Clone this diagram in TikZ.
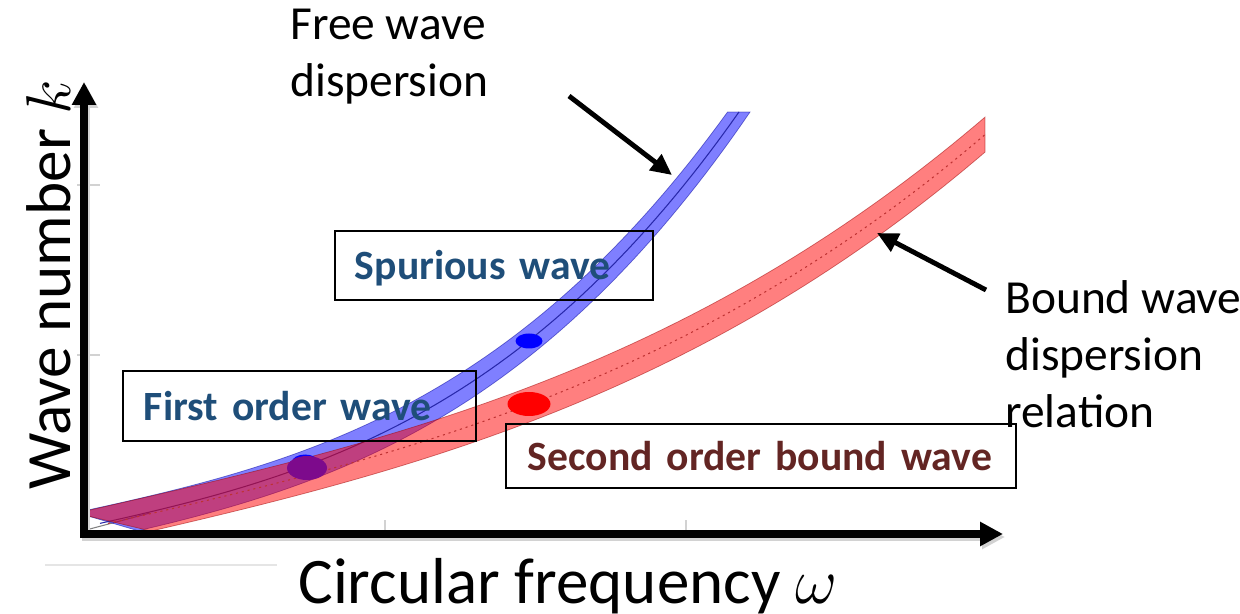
\RequirePackage{fix-cm}
\documentclass[tikz,border=0pt]{standalone}
\usepackage{fontspec}
\setmainfont{Carlito}
\usetikzlibrary{arrows.meta}
\definecolor{txtblue}{RGB}{31,78,121}
\definecolor{txtred}{RGB}{99,37,35}
\definecolor{dotpurple}{RGB}{125,10,140}
\definecolor{blueline}{RGB}{40,40,170}
\definecolor{redline}{RGB}{190,50,50}
\begin{document}
\begin{tikzpicture}[x=0.02cm,y=-0.02cm,
  declare function={vb(\t)=8+21.9*\t+0.71*\t^2+0.875*\t^3; vr(\t)=6+22.76*\t+0.05*\t^2+0.2566*\t^3;},
  axis/.style={line width=4pt,{Triangle[length=13pt,width=13pt]}-{Triangle[length=13pt,width=13pt]}},
  axshadow/.style={axis,draw=gray!35},
  pointer/.style={line width=2.8pt,-{Triangle[length=12pt,width=11pt]}},
  tick/.style={gray!35,line width=0.8pt},
  bandB/.style={fill=blue,fill opacity=.5,draw=blue!60!black,draw opacity=.5,line width=.4pt},
  bandR/.style={fill=red,fill opacity=.5,draw=red!60!black,draw opacity=.5,line width=.4pt},
  labelbox/.style={draw=black,line width=1.1pt,font=\fontsize{23.7}{28}\selectfont\bfseries,align=left,inner ysep=0pt,text height=18pt,text depth=2pt,anchor=north west},
  plain/.style={font=\fontsize{27}{32.5}\selectfont,align=left,inner sep=0pt,anchor=north west}]
\useasboundingbox (0,0) rectangle (1240,614);
% faint line and ticks
\draw[gray!20,line width=.6pt] (45,565) -- (277,565);
\draw[tick] (77,185) -- (100,185);
\draw[tick] (77,355) -- (100,355);
\draw[tick] (385,520) -- (385,537);
\draw[tick] (686,520) -- (686,537);
\draw[gray,line width=.6pt] (86,530) -- (150,513);
% blue band (free wave dispersion)
\draw[bandB] plot[domain=0:6.396,samples=70] ({88+100*\x},{534-vb(\x)-16})
  -- plot[domain=6.62:0.5,samples=70] ({88+100*\x},{534-vb(\x)+16}) -- (88,516) -- cycle;
\draw[blueline,line width=.6pt] plot[domain=0.12:6.51,samples=70] ({88+100*\x},{534-vb(\x)});
% red band (bound wave dispersion)
\draw[bandR] plot[domain=0:8.97,samples=80] ({88+100*\x},{534-vr(\x)-17.5})
  -- plot[domain=8.97:0.63,samples=80] ({88+100*\x},{534-vr(\x)+17.5}) -- (88,516) -- cycle;
\draw[redline,line width=.6pt,dash pattern=on 1.2pt off 2.2pt] plot[domain=0.2:8.97,samples=80] ({88+100*\x},{534-vr(\x)});
% dots
\fill[blue] (305,462) ellipse [x radius=13, y radius=7.5];
\fill[dotpurple] (307,468) ellipse [x radius=20, y radius=12];
\fill[blue] (529,341) ellipse [x radius=13.5, y radius=7.5];
\fill[red] (529,404) ellipse [x radius=21.5, y radius=12];
% axes
\coordinate (O) at (84,534);
\coordinate (ytip) at (84,82);
\coordinate (xtip) at (1003,534);
\draw[axshadow] ([shift={(2,3)}]ytip) -- ([shift={(2,3)}]O) -- ([shift={(2,3)}]xtip);
\draw[axis] (ytip) -- (O) -- (xtip);
% boxes
\node[labelbox,text=txtblue,minimum height=69*0.02cm,text width=278*0.02cm,inner xsep=20*0.02cm] (spur) at (334,230) {\mbox{Spurious wave}};
\node[labelbox,text=txtblue,minimum height=70*0.02cm,text width=311*0.02cm,inner xsep=21*0.02cm] (first) at (122,370) {\mbox{First order wave}};
\node[labelbox,text=txtred,minimum height=64*0.02cm,text width=466*0.02cm,inner xsep=22*0.02cm] (second) at (505,423) {\mbox{Second order bound wave}};
% annotations
\node[plain] (free) at (290,9) {Free wave\\dispersion};
\node[plain] (bound) at (1005,280) {Bound wave\\dispersion\\relation};
\coordinate (fwtail) at (569,96);
\coordinate (fwtip) at (672,175);
\coordinate (bwtail) at (986,290);
\coordinate (bwtip) at (877,233);
\draw[pointer] (fwtail) -- (fwtip);
\draw[pointer] (bwtail) -- (bwtip);
% axis labels
\node[rotate=90,anchor=base west,inner sep=0pt,font=\fontsize{36}{40}\selectfont] (ylab) at (70,490) {Wave number $k$};
\node[anchor=base west,inner sep=0pt,font=\fontsize{37}{44}\selectfont] (xlab) at (298,603) {Circular frequency $\omega$};
\end{tikzpicture}
\end{document}
